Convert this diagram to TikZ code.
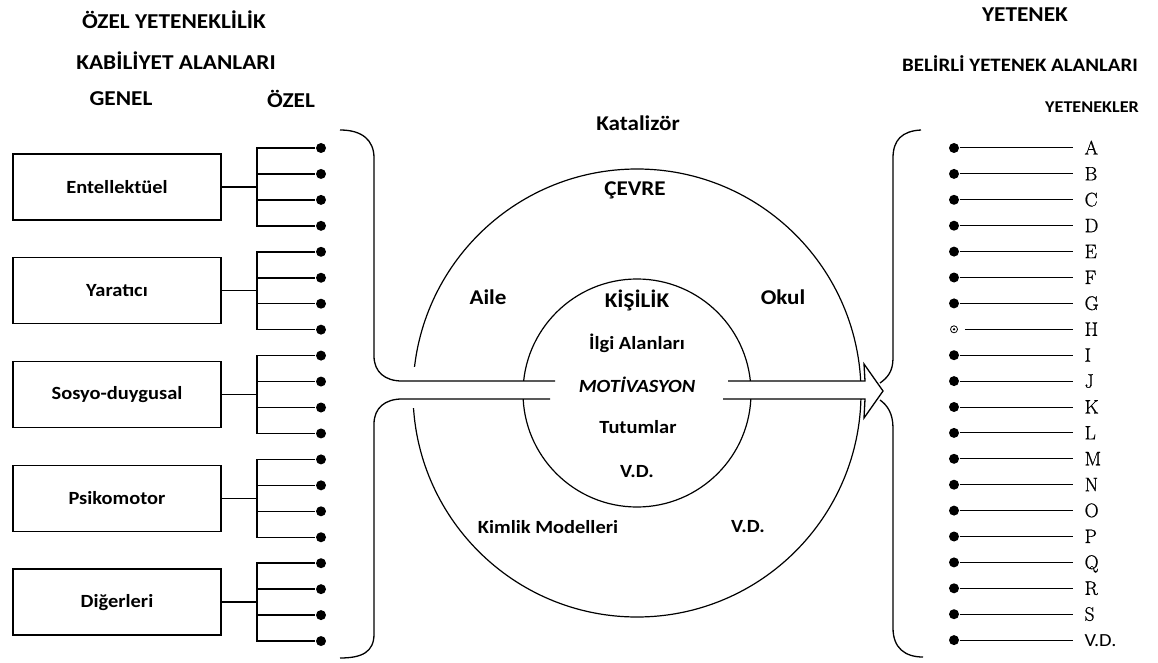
\documentclass[tikz,border=0pt]{standalone}
\usepackage{fontspec}
\newfontfamily\calib[FakeStretch=1.1]{Carlito}
\newfontfamily\lmrbold[FakeBold=0.8]{Latin Modern Roman}
\begin{document}
\begin{tikzpicture}[x=1pt,y=-1pt,line width=1.2pt,
  lbl/.style={font=\calib\bfseries\fontsize{18.6}{22}\selectfont,inner sep=0pt},
  biglbl/.style={font=\calib\bfseries\fontsize{21}{25}\selectfont,inner sep=0pt},
  ttl/.style={font=\calib\bfseries\fontsize{21.2}{25}\selectfont,inner sep=0pt},
  midttl/.style={font=\calib\bfseries\fontsize{19}{23}\selectfont,inner sep=0pt},
  smallttl/.style={font=\calib\bfseries\fontsize{16.5}{20}\selectfont,inner sep=0pt},
  abox/.style={draw,line width=1.5pt,minimum width=208pt,minimum height=66pt,inner sep=0pt,lbl},
  bdot/.style={circle,fill,inner sep=0pt,minimum size=10pt},
  hdot/.style={circle,draw,line width=0.8pt,inner sep=0pt,minimum size=7pt},
  letter/.style={font=\lmrbold\fontsize{19.5}{22}\selectfont,inner sep=0pt,anchor=base west},
  vdl/.style={font=\calib\fontsize{18.5}{22}\selectfont,inner sep=0pt,anchor=base west},
  branch/.style={line width=1.5pt},
  bracket/.style={line width=1.3pt},
  ring/.style={line width=1.2pt},
  thinline/.style={line width=1pt}
]
\useasboundingbox (0,0) rectangle (1158,663);

% ---------------- titles ----------------
\node[ttl] (t1) at (174,20) {ÖZEL YETENEKLİLİK};
\node[ttl] (t2) at (176,61) {KABİLİYET ALANLARI};
\node[ttl] (t3) at (121,99) {GENEL};
\node[ttl] (t4) at (291,99) {ÖZEL};
\node[ttl] (t5) at (1025,15) {YETENEK};
\node[midttl] (t6) at (1020,64) {BELİRLİ YETENEK ALANLARI};
\node[smallttl] (t7) at (1092,107) {YETENEKLER};

% ---------------- left: general / special areas ----------------
\foreach \g/\txt in {0/Entellektüel,1/Yaratıcı,2/Sosyo-duygusal,3/Psikomotor,4/Diğerleri}{
  \node[abox] (B\g) at (117,{186.9+103.8*\g}) {\txt};
  \coordinate (J\g) at (257,{186.9+103.8*\g});
  \foreach \k in {0,1,2,3}{
    \node[bdot] (L\g-\k) at (321,{148+25.95*(4*\g+\k)}) {};
  }
  \draw[branch] (B\g.east) -- (J\g);
  \draw[branch] (L\g-0.west) -| (J\g) |- (L\g-3.west);
  \draw[branch] (J\g |- L\g-1) -- (L\g-1.west);
  \draw[branch] (J\g |- L\g-2) -- (L\g-2.west);
}

% ---------------- centre circles ----------------
\coordinate (C) at (637,393);
\draw[ring] (C) circle[radius=224pt];
\draw[ring] (C) circle[radius=114pt];

% white shaft of the arrow over the rings
\fill[white] (400,381) rectangle (866,399);
\fill[white] (405,367) rectangle (421,408);
\fill[white] (865,364) -- (883,391) -- (865,418) -- cycle;

% left bracket merging into arrow
\draw[bracket] (340,130) .. controls (362,130) and (374,140) .. (374,158)
  -- (374,356) .. controls (374,372) and (385,381) .. (402,381) -- (555,381);
\draw[bracket] (550,399) -- (402,399) .. controls (385,399) and (374,408) .. (374,424)
  -- (374,634) .. controls (374,652) and (362,658) .. (340,658);

% right part of arrow with head
\draw[bracket,line join=miter] (728,381) -- (865,381) -- (864,364) -- (883,391)
  -- (864,418) -- (865,399) -- (723,399);

% right bracket
\draw[bracket] (921,130) .. controls (902,131) and (893,140) .. (893,158)
  -- (893,358) .. controls (893,372) and (887,378) .. (880,383);
\draw[bracket] (880,400) .. controls (887,405) and (893,413) .. (893,428)
  -- (893,628) .. controls (893,648) and (905,657) .. (923,657);

% centre texts
\node[biglbl] (kat) at (638,123) {Katalizör};
\node[biglbl] (cev) at (635,190) {ÇEVRE};
\node[biglbl] (aile) at (488,297) {Aile};
\node[biglbl] (okul) at (783,297) {Okul};
\node[biglbl] (kis) at (637,300) {KİŞİLİK};
\node[lbl] (ilgi) at (637,343) {İlgi Alanları};
\node[lbl,font=\calib\bfseries\itshape\fontsize{18.6}{22}\selectfont] (mot) at (637,385) {MOTİVASYON};
\node[lbl] (tut) at (638,427) {Tutumlar};
\node[lbl] (vd1) at (637,472) {V.D.};
\node[lbl] (kim) at (548,527) {Kimlik Modelleri};
\node[lbl] (vd2) at (748,527) {V.D.};

% ---------------- right: abilities ----------------
\foreach \i/\t in {0/A,1/B,2/C,3/D,4/E,5/F,6/G,8/I,9/J,10/K,11/L,12/M,13/N,14/O,15/P,16/Q,17/R,18/S}{
  \node[bdot] (R\i) at (954,{148+25.9*\i}) {};
  \node[letter] (T\i) at (1084,{148+25.9*\i+6.5}) {\t};
  \coordinate (E\i) at (1073,{148+25.9*\i});
  \draw[thinline] (R\i) -- (E\i);
}
\node[hdot] (R7) at (954,{148+25.9*7}) {};
\fill (R7) circle[radius=1.3pt];
\node[letter] (T7) at (1084,{148+25.9*7+6.5}) {H};
\coordinate (E7) at (1073,{148+25.9*7});
\draw[thinline] ([xshift=7pt]R7.east) -- (E7);
\node[bdot] (R19) at (954,{148+25.9*19}) {};
\node[vdl] (T19) at (1084,{148+25.9*19+6}) {V.D.};
\coordinate (E19) at (1073,{148+25.9*19});
\draw[thinline] (R19) -- (E19);
\end{tikzpicture}
\end{document}
